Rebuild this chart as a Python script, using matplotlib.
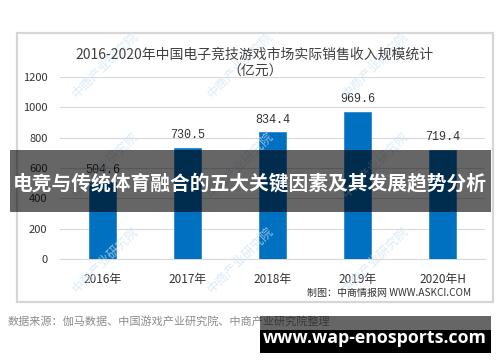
import matplotlib
matplotlib.use("Agg")
import matplotlib.pyplot as plt
from matplotlib.patches import Rectangle

plt.rcParams['font.family'] = ['Noto Sans CJK SC', 'DejaVu Sans']

years = ["2016年", "2017年", "2018年", "2019年", "2020年H"]
revenue = [504.6, 730.5, 834.4, 969.6, 719.4]
yticks = [0, 200, 400, 600, 800, 1000, 1200]

title = "2016-2020年中国电子竞技游戏市场实际销售收入规模统计"
unit = "（亿元）"
credit = "制图：中商情报网 WWW.ASKCI.COM"
source = "数据来源：伽马数据、中国游戏产业研究院、中商产业研究院整理"
banner = "电竞与传统体育融合的五大关键因素及其发展趋势分析"
site = "www.wap-enosports.com"
watermark = "中商产业研究院"

W, H = 500, 362


def fx(x):
    return x / W


def fy(y):
    return 1 - y / H


fig = plt.figure(figsize=(5, 3.62), dpi=100)
fig.patch.set_facecolor("white")

# outer frame of the chart picture
fig.patches.append(Rectangle((fx(17), fy(302)), fx(476), (302 - 33) / H,
                             transform=fig.transFigure, fill=False,
                             edgecolor="#d6d6d6", lw=1.6, zorder=0))

# faint watermarks
for wx in [70, 205, 340]:
    for wy in [100, 200, 295]:
        fig.text(fx(wx), fy(wy), watermark, rotation=45, fontsize=9,
                 color="#cfe2f3", alpha=0.7, ha="left", va="bottom", zorder=0)

ax = fig.add_axes([fx(60), fy(259), fx(425), (259 - 77) / H])
ax.set_facecolor("none")
x = range(len(years))
ax.bar(x, revenue, width=0.32, color="#0070C0", edgecolor="#2f86cf", lw=0.6, zorder=3)
for i, v in enumerate(revenue):
    ax.annotate(f"{v:.1f}", (i, v), xytext=(0, 5), textcoords="offset points",
                ha="center", va="bottom", fontsize=8.5, color="#333333",
                family="Liberation Mono", zorder=4)

ax.set_xlim(-0.5, len(years) - 0.5)
ax.set_ylim(0, 1200)
ax.set_yticks(yticks)
ax.set_yticklabels([str(t) for t in yticks], fontsize=8, color="#333333")
ax.set_xticks(list(x))
ax.set_xticklabels(years, fontsize=8.5, color="#333333")
ax.tick_params(length=0, pad=10)
ax.tick_params(axis="y", pad=9)
ax.grid(axis="y", color="#d9d9d9", lw=0.8, zorder=0)
for s in ["top", "right", "left"]:
    ax.spines[s].set_visible(False)
ax.spines["bottom"].set_color("#d9d9d9")

fig.text(fx(255), fy(55), title, ha="center", va="center", fontsize=10, color="#404040")
fig.text(fx(255), fy(72), unit, ha="center", va="center", fontsize=10, color="#404040")
fig.text(fx(471), fy(293), credit, ha="right", va="center", fontsize=7.2, color="#333333")
fig.text(fx(8), fy(321), source, ha="left", va="center", fontsize=8, color="#8c8c8c")

# dark banner across the chart
fig.patches.append(Rectangle((fx(10), fy(212)), fx(481), (212 - 150) / H,
                             transform=fig.transFigure, color="black", alpha=0.6,
                             lw=0, zorder=10))
fig.text(fx(250), fy(183), banner, ha="center", va="center", fontsize=14.2,
         fontweight="bold", color="white", zorder=11)

# site box bottom right
fig.patches.append(Rectangle((fx(260), fy(330)), fx(231), (330 - 316) / H,
                             transform=fig.transFigure, color="black", alpha=0.6,
                             lw=0, zorder=10))
fig.patches.append(Rectangle((fx(260), fy(353)), fx(231), (353 - 330) / H,
                             transform=fig.transFigure, color="black",
                             lw=0, zorder=10))
fig.text(fx(375), fy(338), site, ha="center", va="center", fontsize=12.8,
         fontweight="bold", color="white", family="Open Sans", zorder=11)

fig.savefig("out.png", dpi=100)
